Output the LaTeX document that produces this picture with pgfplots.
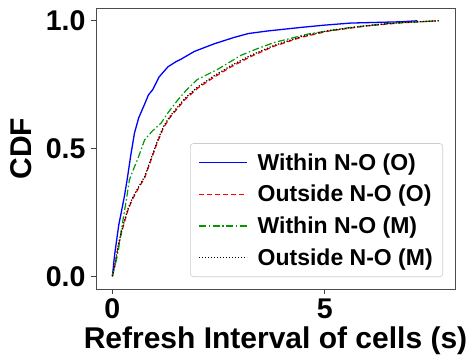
\documentclass[border=0pt]{standalone}
\usepackage{pgfplots}
\pgfplotsset{compat=1.18}
\usepackage{fontspec}
\setmainfont{Liberation Sans}
\begin{document}
\begin{tikzpicture}
\begin{axis}[
  name=ax,
  scale only axis,
  width=359pt, height=281pt,
  xmin=-0.385, xmax=8.065,
  ymin=-0.05, ymax=1.05,
  xtick={0,5}, ytick={0,0.5,1},
  yticklabel style={/pgf/number format/fixed,/pgf/number format/fixed zerofill,/pgf/number format/precision=1},
  /pgf/number format/assume math mode=true,
  tick align=outside,
  major tick length=5pt,
  tick style={black!75, line width=0.9pt},
  xtick pos=bottom, ytick pos=left,
  axis line style={black!70, line width=0.9pt},
  ticklabel style={font=\bfseries\fontsize{28.5}{28.5}\selectfont},
  xticklabel style={yshift=-1pt},
  yticklabel style={xshift=-2pt},
  xlabel={Refresh Interval of cells (s)},
  ylabel={CDF},
  label style={font=\bfseries\fontsize{30}{30}\selectfont},
  xlabel style={yshift=-1pt},
  ylabel style={yshift=7pt},
  legend cell align=left,
  legend style={at={(1,0)}, anchor=south east, xshift=-12pt, yshift=12pt,
    draw=black!20, rounded corners=3pt, line width=0.6pt,
    font=\bfseries\fontsize{23}{23}\selectfont,
    row sep=9.5pt, inner xsep=8pt, inner ysep=8pt,
    /tikz/every odd column/.append style={column sep=8pt}},
  legend image code/.code={\draw[#1] (0pt,0pt) -- (48pt,0pt);},
]
\addplot[blue, line width=1.3pt] coordinates {
(0,0) (0.02,0.03) (0.05,0.08) (0.1,0.14) (0.15,0.2) (0.21,0.25) (0.28,0.31) (0.35,0.38) (0.43,0.47) (0.52,0.56) (0.62,0.62) (0.75,0.67) (0.85,0.71) (0.95,0.73) (1.1,0.78) (1.31,0.82) (1.5,0.84) (1.62,0.85) (1.93,0.88) (2.4,0.91) (2.87,0.935) (3.2,0.95) (3.65,0.96) (4.44,0.974) (5.0,0.983) (5.61,0.991) (6.78,0.996) (7.18,1.0)
};
\addlegendentry{Within N-O (O)}
\addplot[red, dashed, line width=1.2pt, dash pattern=on 5pt off 3pt] coordinates {
(0,0) (0.03,0.02) (0.08,0.06) (0.13,0.11) (0.2,0.16) (0.28,0.21) (0.37,0.26) (0.47,0.3) (0.6,0.34) (0.76,0.385) (0.9,0.45) (1.05,0.52) (1.2,0.58) (1.35,0.62) (1.55,0.66) (1.7,0.69) (2.0,0.735) (2.4,0.78) (2.8,0.82) (3.26,0.86) (3.8,0.9) (4.44,0.935) (5.1,0.96) (6.0,0.98) (6.8,0.992) (7.68,1.0)
};
\addlegendentry{Outside N-O (O)}
\addplot[black!40!green, line width=1.2pt, dash pattern=on 7pt off 2.5pt on 1.5pt off 2.5pt] coordinates {
(0,0) (0.03,0.02) (0.09,0.06) (0.15,0.11) (0.21,0.18) (0.28,0.25) (0.34,0.31) (0.4,0.377) (0.5,0.42) (0.6,0.46) (0.76,0.534) (0.95,0.57) (1.15,0.60) (1.31,0.64) (1.54,0.69) (1.75,0.73) (2.0,0.77) (2.48,0.81) (3.03,0.865) (3.4,0.89) (3.81,0.915) (4.6,0.948) (5.61,0.974) (6.5,0.99) (7.68,1.0)
};
\addlegendentry{Within N-O (M)}
\addplot[black, line width=1.2pt, dash pattern=on 1.2pt off 1.8pt] coordinates {
(0,0) (0.03,0.02) (0.08,0.065) (0.13,0.115) (0.2,0.165) (0.28,0.215) (0.37,0.265) (0.47,0.305) (0.6,0.345) (0.76,0.39) (0.9,0.455) (1.05,0.525) (1.2,0.585) (1.35,0.625) (1.55,0.665) (1.7,0.695) (2.0,0.74) (2.4,0.785) (2.8,0.825) (3.26,0.865) (3.8,0.903) (4.44,0.938) (5.1,0.962) (6.0,0.981) (6.8,0.993) (7.68,1.0)
};
\addlegendentry{Outside N-O (M)}
\end{axis}
\pgfresetboundingbox
\path[use as bounding box] ([shift={(-96pt,-70pt)}]ax.south west) rectangle ([shift={(20pt,8pt)}]ax.north east);
\end{tikzpicture}
\end{document}
